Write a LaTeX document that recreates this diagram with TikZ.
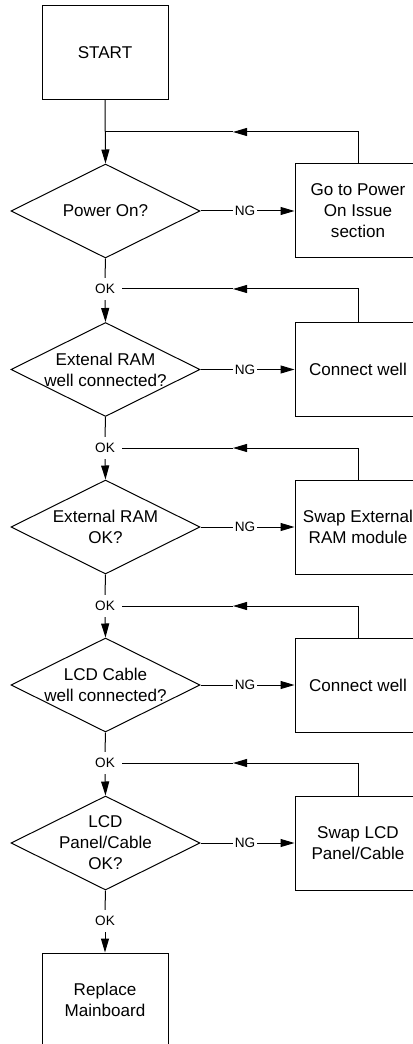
\documentclass[tikz,border=0pt]{standalone}
\usepackage{fontspec}
\setmainfont{Liberation Sans}
\usepackage{tikz}
\usetikzlibrary{arrows.meta,positioning,shapes.geometric}

\begin{document}
\begin{tikzpicture}[
        x=0.75pt,
        y=-0.75pt,
        >=Stealth,
        box/.style={
            draw,
            line width=0.75pt,
            align=center,
            inner sep=0pt,
            minimum width=94.5pt,
            minimum height=70.5pt,
            font=\fontsize{12.8}{15.8}\selectfont
        },
        decision/.style={
            draw,
            diamond,
            aspect=2,
            line width=0.75pt,
            align=center,
            inner sep=-4pt,
            minimum width=141.75pt,
            minimum height=70.5pt,
            font=\fontsize{12.8}{15.8}\selectfont
        },
        tag/.style={inner xsep=5pt, inner ysep=4.5pt, font=\fontsize{10.2}{12}\selectfont},
        ngtag/.style={inner xsep=1.2pt, inner ysep=2pt, font=\fontsize{10.2}{12}\selectfont},
        line/.style={line width=0.75pt},
        flow/.style={-{Triangle[length=10.5pt,width=6pt]}, line width=0.75pt}
    ]
        % Page frame, right boxes run off the edge.
        \clip (0,0) rectangle (413,1044);

        \node[box] (start) at (105,52.5) {START};

        \node[decision] (d1) at (105.5,211) {Power On?};
        \node[decision] (d2) at (105.5,369.5) {Extenal RAM\\well connected?};
        \node[decision] (d3) at (105.5,527) {External RAM\\OK?};
        \node[decision] (d4) at (105.5,685) {LCD Cable\\well connected?};
        \node[decision] (d5) at (105.5,843) {LCD\\Panel/Cable\\OK?};

        \node[box] (fix1) at (358,211) {Go to Power\\On Issue\\section};
        \node[box] (fix2) at (358,369.5) {Connect well};
        \node[box] (fix3) at (358,527) {Swap External\\RAM module};
        \node[box] (fix4) at (358,685) {Connect well};
        \node[box] (fix5) at (358,843) {Swap LCD\\Panel/Cable};

        \node[box] (repl) at (105,1000) {Replace\\Mainboard};

        \node[tag] (ok1) at (105,289) {OK};
        \node[tag] (ok2) at (105,448) {OK};
        \node[tag] (ok3) at (105,606) {OK};
        \node[tag] (ok4) at (105,763) {OK};
        \node[tag] (ok5) at (105,921) {OK};

        \node[ngtag] (ng1) at (245,211) {NG};
        \node[ngtag] (ng2) at (245,369.5) {NG};
        \node[ngtag] (ng3) at (245,527) {NG};
        \node[ngtag] (ng4) at (245,685) {NG};
        \node[ngtag] (ng5) at (245,843) {NG};

        % Main path down the left.
        \draw[flow] (start.south) -- (d1.north);
        \draw[line] (d1.south) -- (ok1.north);
        \draw[flow] (ok1.south) -- (d2.north);
        \draw[line] (d2.south) -- (ok2.north);
        \draw[flow] (ok2.south) -- (d3.north);
        \draw[line] (d3.south) -- (ok3.north);
        \draw[flow] (ok3.south) -- (d4.north);
        \draw[line] (d4.south) -- (ok4.north);
        \draw[flow] (ok4.south) -- (d5.north);
        \draw[line] (d5.south) -- (ok5.north);
        \draw[flow] (ok5.south) -- (repl.north);

        % NG branches.
        \draw[line] (d1.east) -- (ng1.west);
        \draw[flow] (ng1.east) -- (fix1.west);
        \draw[line] (d2.east) -- (ng2.west);
        \draw[flow] (ng2.east) -- (fix2.west);
        \draw[line] (d3.east) -- (ng3.west);
        \draw[flow] (ng3.east) -- (fix3.west);
        \draw[line] (d4.east) -- (ng4.west);
        \draw[flow] (ng4.east) -- (fix4.west);
        \draw[line] (d5.east) -- (ng5.west);
        \draw[flow] (ng5.east) -- (fix5.west);

        % Loops back after each fix.
        \coordinate (back1) at (233,132);
        \coordinate (back2) at (233,289);
        \coordinate (back3) at (233,448);
        \coordinate (back4) at (233,606);
        \coordinate (back5) at (233,763);
        \draw[flow] (fix1.north) |- (back1);
        \draw[line] (back1) -- (back1 -| start.south);
        \draw[flow] (fix2.north) |- (back2);
        \draw[line] (back2) -- (ok1.east);
        \draw[flow] (fix3.north) |- (back3);
        \draw[line] (back3) -- (ok2.east);
        \draw[flow] (fix4.north) |- (back4);
        \draw[line] (back4) -- (ok3.east);
        \draw[flow] (fix5.north) |- (back5);
        \draw[line] (back5) -- (ok4.east);

    \end{tikzpicture}
\end{document}
